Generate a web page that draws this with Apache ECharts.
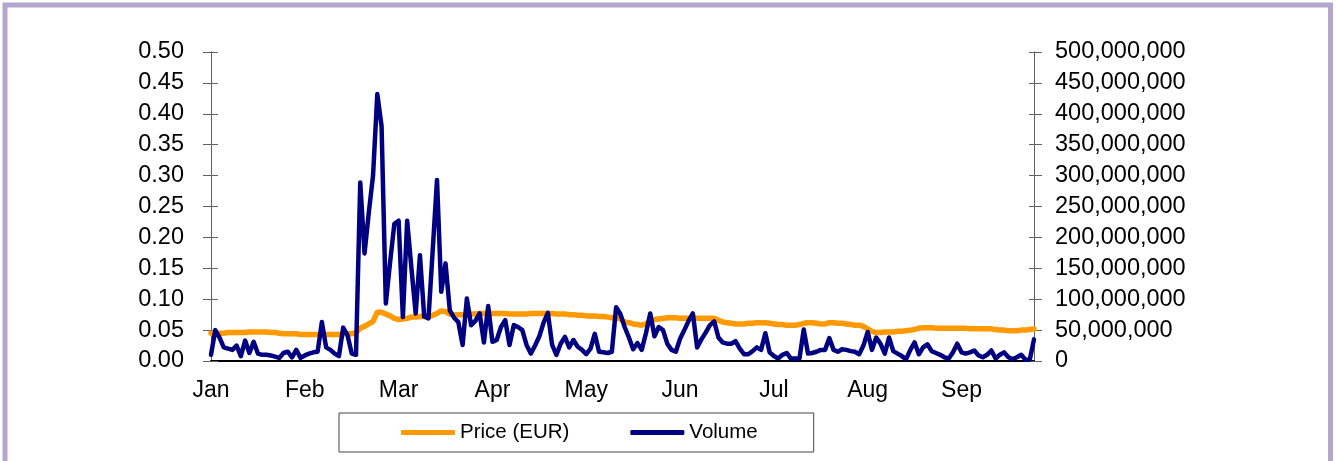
<!DOCTYPE html>
<html>
<head>
<meta charset="utf-8">
<script src="https://cdn.jsdelivr.net/npm/echarts@6/dist/echarts.min.js"></script>
<style>
html,body{margin:0;padding:0;background:#fff;}
#c{width:1336px;height:461px;}
</style>
</head>
<body>
<div id="c"></div>
<script>
var monthLabels = ['Jan','Feb','Mar','Apr','May','Jun','Jul','Aug','Sep'];
var pointsPerMonth = 22;
var priceTicks = [0, 0.5, 0.05];
var volumeTicks = [0, 500, 50];

var priceEUR = [
.045,.045,.045,.045,.046,.046,.046,.046,.046,.047,
.047,.047,.047,.047,.046,.046,.045,.044,.044,.044,
.044,.043,.043,.043,.043,.043,.043,.043,.043,.043,
.043,.044,.044,.044,.046,.053,.056,.060,.064,.079,
.079,.076,.073,.069,.067,.068,.069,.071,.071,.072,
.072,.072,.074,.077,.081,.080,.076,.075,.075,.075,
.076,.076,.076,.077,.077,.077,.077,.077,.077,.077,
.076,.076,.076,.076,.076,.077,.077,.077,.077,.077,
.077,.076,.076,.076,.075,.075,.074,.074,.073,.073,
.073,.072,.072,.071,.070,.070,.068,.063,.062,.060,
.059,.058,.060,.065,.067,.068,.069,.070,.070,.070,
.069,.069,.069,.069,.069,.069,.069,.069,.069,.066,
.063,.062,.061,.060,.060,.060,.061,.061,.062,.062,
.062,.061,.060,.059,.059,.058,.058,.058,.059,.061,
.062,.062,.061,.060,.060,.062,.062,.061,.061,.060,
.059,.058,.058,.056,.052,.048,.046,.046,.047,.047,
.047,.048,.048,.049,.050,.051,.053,.054,.054,.054,
.053,.053,.053,.053,.053,.053,.053,.053,.052,.052,
.052,.052,.052,.052,.051,.050,.050,.049,.049,.049,
.050,.050,.051,.052
];

// volume in millions of shares
var volumeMillions = [
10,50,38,22,20,18,25,8,33,13,
31,12,10,10,9,7,5,13,15,6,
18,5,9,12,14,15,63,22,18,12,
8,54,42,12,10,289,174,240,300,432,
380,93,160,222,227,71,227,150,77,171,
72,69,180,293,112,158,82,70,63,26,
101,58,65,77,30,89,31,34,55,66,
26,58,55,50,26,12,25,40,62,78,
26,10,28,39,22,34,23,18,11,20,
44,15,14,13,15,87,76,55,38,19,
29,18,45,77,40,55,50,28,18,15,
36,50,65,77,22,35,46,58,64,38,
30,28,28,32,20,11,11,16,22,18,
45,14,8,4,10,13,4,4,4,51,
12,13,15,18,18,37,18,15,19,18,
16,15,11,25,47,18,38,28,12,38,
16,12,8,3,18,30,11,22,27,16,
13,10,6,4,14,28,14,12,14,17,
9,6,10,17,4,10,14,6,3,6,
10,2,2,35
];

var categories = volumeMillions.map(function (v, i) {
  return (i % pointsPerMonth === 0 && monthLabels[i / pointsPerMonth]) ? monthLabels[i / pointsPerMonth] : '';
});

var FONT = '"Liberation Sans", Arial, sans-serif';
var chart = echarts.init(document.getElementById('c'));
var baseLeft = {
  type: 'value', position: 'left', min: priceTicks[0], max: priceTicks[1], interval: priceTicks[2]
};
var baseRight = {
  type: 'value', position: 'right', min: volumeTicks[0], max: volumeTicks[1], interval: volumeTicks[2]
};
chart.setOption({
  animation: false,
  backgroundColor: '#fff',
  graphic: [{
    type: 'rect', silent: true,
    shape: { x: 5, y: 5, width: 1325.5, height: 500 },
    style: { fill: 'none', stroke: '#B4A6CD', lineWidth: 5 }
  }],
  grid: { left: 211, right: 302, top: 52, bottom: 100 },
  legend: {
    data: ['Price (EUR)', 'Volume'],
    left: 339, top: 413,
    padding: [9, 56, 9, 62],
    itemWidth: 54, itemHeight: 5, itemGap: 61,
    icon: 'roundRect',
    borderColor: '#444', borderWidth: 1,
    textStyle: { fontFamily: FONT, fontSize: 20.5, color: '#000', lineHeight: 21 }
  },
  xAxis: {
    type: 'category', data: categories, boundaryGap: false,
    axisLine: { lineStyle: { color: '#000', width: 2 } },
    axisTick: { show: false },
    splitLine: { show: false },
    axisLabel: { interval: 0, margin: 18, fontFamily: FONT, fontSize: 23, color: '#000' }
  },
  yAxis: [
    Object.assign({}, baseLeft, {
      axisLine: { show: true, lineStyle: { color: '#606060', width: 1 } },
      axisTick: { show: true, length: 8, lineStyle: { color: '#606060' } },
      splitLine: { show: false },
      axisLabel: { margin: 27, fontFamily: FONT, fontSize: 23.5, color: '#000',
        formatter: function (v) { return v.toFixed(2); } }
    }),
    Object.assign({}, baseRight, {
      axisLine: { show: true, lineStyle: { color: '#606060', width: 1 } },
      axisTick: { show: true, length: 8, lineStyle: { color: '#606060' } },
      splitLine: { show: false },
      axisLabel: { margin: 21, fontFamily: FONT, fontSize: 23.5, color: '#000',
        formatter: function (v) { return v === 0 ? '0' : Math.round(v) + ',000,000'; } }
    }),
    Object.assign({}, baseLeft, {
      axisLine: { show: false },
      axisTick: { show: true, inside: true, length: 7, lineStyle: { color: '#606060' } },
      splitLine: { show: false }, axisLabel: { show: false }
    }),
    Object.assign({}, baseRight, {
      axisLine: { show: false },
      axisTick: { show: true, inside: true, length: 5, lineStyle: { color: '#606060' } },
      splitLine: { show: false }, axisLabel: { show: false }
    })
  ],
  series: [
    {
      name: 'Price (EUR)', type: 'line', yAxisIndex: 0, data: priceEUR,
      showSymbol: false, symbol: 'none', color: '#FF9900',
      lineStyle: { color: '#FF9900', width: 5.5, cap: 'round', join: 'round' }
    },
    {
      name: 'Volume', type: 'line', yAxisIndex: 1, data: volumeMillions,
      showSymbol: false, symbol: 'none', color: '#000080',
      lineStyle: { color: '#000080', width: 4.5, cap: 'round', join: 'round' }
    }
  ]
});
</script>
</body>
</html>
